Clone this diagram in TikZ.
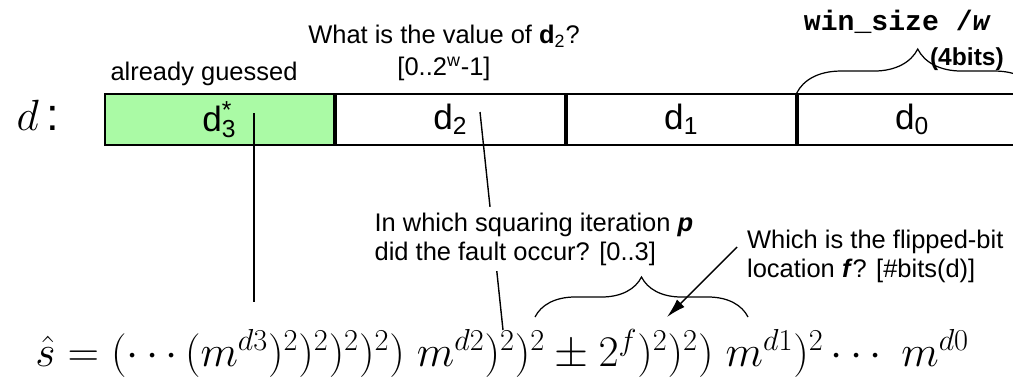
\documentclass[tikz,border=0pt]{standalone}
\usepackage[no-math]{fontspec}
\setmainfont{Liberation Sans}
\setmonofont{Liberation Mono}
\usetikzlibrary{calc,decorations.pathreplacing,arrows.meta}
\definecolor{guessgreen}{RGB}{170,250,165}
\tikzset{
  cell/.style={draw,line width=1.1pt,minimum width=4.58cm,minimum height=1.02cm,inner sep=0pt,font=\fontsize{20}{24}\selectfont},
  note/.style={font=\fontsize{14.5}{16.5}\selectfont,inner sep=1pt},
  brc/.style={decorate,decoration={brace,amplitude=#1},line width=0.7pt},
  lead/.style={line width=0.8pt}
}
\begin{document}
\begin{tikzpicture}[x=0.02cm,y=-0.02cm]
                \useasboundingbox (0,0) rectangle (1013,379);
                \node[font=\fontsize{26}{30}\selectfont] (dlab) at (38,115) {$d$\,:};
                \node[cell,fill=guessgreen] (c3) at (219.5,119.5) {d\rlap{\textsuperscript{*}}\textsubscript{3}};
                \node[cell,anchor=west] (c2) at (c3.east) {d\textsubscript{2}};
                \node[cell,anchor=west] (c1) at (c2.east) {d\textsubscript{1}};
                \node[cell,anchor=west] (c0) at (c1.east) {d\textsubscript{0}};
                \node[note,anchor=base] (ag) at (204,80) {already guessed};
                \node[note,align=center,anchor=north] (qd) at (444,23)
                  {What is the value of \textbf{d}\textsubscript{2}?\\[1.5pt][0..2\textsuperscript{w}-1]};
                \node[font=\bfseries\ttfamily\fontsize{16}{19}\selectfont,anchor=base east] (ws) at (997,30) {win\_size /\textit{w}};
                \node[font=\bfseries\fontsize{14}{16}\selectfont,anchor=base east] (nb) at (1010,65) {(4bits)};
                \node[anchor=base west,inner sep=0pt,font=\fontsize{25.5}{29}\selectfont] (sh) at (35,366)
                  {$\hat{s} = (\cdots(m^{d3})^2)^2)^2)^2)\; m^{d2})^2)^2\pm 2^f)^2)^2)\; m^{d1})^2\cdots\; m^{d0}$};
                \coordinate (p3) at (254,113);
                \coordinate (q3) at (254,302);
                \coordinate (p2) at (480,112);
                \coordinate (q2) at (503,330);
                \draw[lead] (p3) -- (q3);
                \draw[lead] (p2) -- (q2);
                \node[note,align=left,anchor=north west,fill=white,inner sep=3pt] (qp) at (369,207)
                  {In which squaring iteration \textbf{\textit{p}}\\did the fault occur? [0..3]};
                \node[note,align=left,anchor=north west] (qf) at (745,228)
                  {Which is the flipped-bit\\location \textbf{\textit{f}}? [\#bits(d)]};
                \coordinate (fs) at ($(qf.north west)+(-8,19)$);
                \coordinate (ft) at (667,317);
                \draw[lead,-{Latex[length=11pt,width=6pt]}] (fs) -- (ft);
                \coordinate (w0) at (c0.north west);
                \coordinate (w1) at ($(c0.north west)+(242,0)$);
                \draw[brc=0.88cm] (w0) -- (w1);
                \coordinate (b0) at (535,317);
                \coordinate (b1) at (748,317);
                \draw[brc=0.8cm] (b0) -- (b1);
\end{tikzpicture}
\end{document}
